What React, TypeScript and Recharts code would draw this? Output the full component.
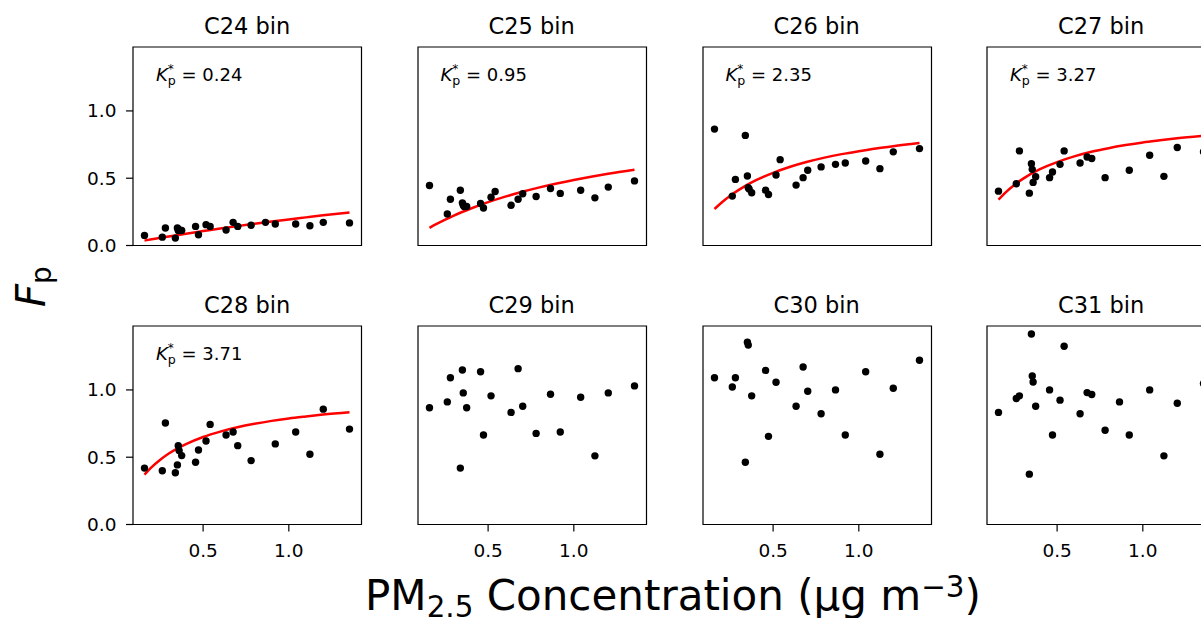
import React from 'react';
import { ComposedChart, Scatter, Line, XAxis, YAxis, ReferenceArea } from 'recharts';

const FONT = '"DejaVu Sans", "Liberation Sans", sans-serif';

// ---------------- data ----------------
const binNames = ['C24', 'C25', 'C26', 'C27', 'C28', 'C29', 'C30', 'C31'];
const kpLabels = ['0.24', '0.95', '2.35', '3.27', '3.71', null, null, null];

// PM2.5 concentration (µg m-3), shared by every bin
const pm25 = [0.158, 0.262, 0.28, 0.338, 0.35, 0.355, 0.36, 0.375, 0.456, 0.473, 0.517, 0.541, 0.634, 0.675, 0.702, 0.78, 0.864, 0.921, 1.04, 1.123, 1.201, 1.354];

// Fp per bin (null = no point)
const fpC24 = [0.075, 0.062, 0.13, 0.055, 0.13, 0.112, 0.118, 0.112, 0.142, 0.08, 0.155, 0.142, 0.115, 0.172, 0.142, 0.15, 0.172, 0.16, 0.16, 0.147, 0.172, 0.168];
const fpC25 = [0.446, 0.234, 0.344, 0.411, 0.317, 0.3, 0.29, 0.29, 0.312, 0.279, 0.359, 0.401, 0.299, 0.344, 0.384, 0.364, 0.424, 0.387, 0.411, 0.354, 0.434, 0.48];
const fpC26 = [0.865, 0.367, 0.491, 0.818, 0.516, 0.429, 0.42, 0.392, 0.411, 0.379, 0.524, 0.638, 0.449, 0.504, 0.559, 0.584, 0.603, 0.613, 0.628, 0.571, 0.696, 0.72];
const fpC27 = [0.404, 0.459, 0.703, 0.389, 0.608, 0.566, 0.469, 0.511, 0.504, 0.546, 0.603, 0.703, 0.613, 0.658, 0.646, 0.504, null, 0.559, 0.671, 0.514, 0.728, 0.696];
const fpC28 = [0.419, 0.399, 0.754, 0.384, 0.443, 0.586, 0.549, 0.512, 0.463, 0.554, 0.621, 0.744, 0.665, 0.687, 0.586, 0.475, null, 0.599, 0.687, 0.522, 0.857, 0.709];
const fpC29 = [0.867, 0.911, 1.091, 0.419, 1.148, 0.978, null, 0.867, 1.135, 0.665, 0.956, null, 0.833, 1.158, 0.879, 0.677, 0.968, 0.687, 0.946, 0.51, 0.978, 1.03];
const fpC30 = [1.091, 1.022, 1.091, 0.463, 1.355, 1.333, null, 0.956, 1.145, 0.655, 1.057, null, 0.879, 1.17, 0.99, 0.823, 1.0, 0.665, 1.135, 0.522, 1.012, 1.22];
const fpC31 = [0.833, 0.936, 0.956, 0.374, 1.416, 1.103, 1.059, 0.879, 1.0, 0.665, 0.924, 1.325, 0.823, 0.98, 0.966, 0.7, 0.911, 0.665, 1.0, 0.51, 0.901, 1.047];

// fitted curves
const curveX = [0.158, 0.2, 0.25, 0.3, 0.4, 0.5, 0.6, 0.7, 0.8, 0.9, 1.0, 1.1, 1.2, 1.354];
const curveC24 = [0.037, 0.046, 0.057, 0.067, 0.088, 0.107, 0.126, 0.144, 0.161, 0.178, 0.194, 0.209, 0.224, 0.245];
const curveC25 = [0.131, 0.16, 0.192, 0.222, 0.275, 0.322, 0.363, 0.399, 0.432, 0.461, 0.487, 0.511, 0.533, 0.563];
const curveC26 = [0.271, 0.32, 0.37, 0.413, 0.485, 0.54, 0.585, 0.622, 0.653, 0.679, 0.701, 0.721, 0.738, 0.761];
const curveC27 = [0.341, 0.395, 0.45, 0.495, 0.567, 0.62, 0.662, 0.696, 0.723, 0.746, 0.766, 0.782, 0.797, 0.816];
const curveC28 = [0.37, 0.426, 0.481, 0.527, 0.597, 0.65, 0.69, 0.722, 0.748, 0.77, 0.788, 0.803, 0.817, 0.834];

const xTicks = [0.5, 1.0];
const yTicks = [0, 0.5, 1.0];
const xDomain: [number, number] = [0.091, 1.424];
const yDomain: [number, number] = [0, 1.475];

const fpSeries = [fpC24, fpC25, fpC26, fpC27, fpC28, fpC29, fpC30, fpC31];
const curveSeries = [curveC24, curveC25, curveC26, curveC27, curveC28, null, null, null];

// ---------------- layout ----------------
const COL_LEFT = [133, 417.5, 702.5, 987];
const ROW_TOP = [46.5, 325.5];
const PW = 228.5;
const PH = 198.5;
const YW = 60;
const XH = 45;
const PAD = 3;

const tickStyle = { fill: '#000', fontSize: 18.5, fontFamily: FONT };

const Dot = (props: any) => <circle cx={props.cx} cy={props.cy} r={3.7} fill="#000" />;

function Panel({ idx }: { idx: number }) {
  const row = Math.floor(idx / 4);
  const col = idx % 4;
  const ys = fpSeries[idx];
  const scatterData = pm25
    .map((x, i) => ({ x, y: ys[i] }))
    .filter((d) => d.y !== null && d.y !== undefined);
  const cv = curveSeries[idx];
  const curveData = cv ? curveX.map((x, i) => ({ x, y: cv[i] })) : null;
  return (
    <div style={{ position: 'absolute', left: COL_LEFT[col] - YW, top: ROW_TOP[row] - PAD }}>
      <ComposedChart
        width={YW + PW + PAD}
        height={PAD + PH + XH}
        margin={{ top: PAD, right: PAD, bottom: 0, left: 0 }}
      >
        <XAxis
          type="number"
          dataKey="x"
          domain={xDomain}
          ticks={xTicks}
          allowDataOverflow
          height={XH}
          axisLine={false}
          tickLine={row === 1 ? { stroke: '#000', strokeWidth: 1.2 } : false}
          tick={row === 1 ? tickStyle : false}
          tickSize={7}
          tickMargin={12}
          tickFormatter={(v: number) => v.toFixed(1)}
        />
        <YAxis
          type="number"
          dataKey="y"
          domain={yDomain}
          ticks={yTicks}
          allowDataOverflow
          width={YW}
          axisLine={false}
          tickLine={{ stroke: '#000', strokeWidth: 1.2 }}
          tick={col === 0 ? tickStyle : false}
          tickSize={7}
          tickMargin={9.5}
          tickFormatter={(v: number) => v.toFixed(1)}
        />
        <ReferenceArea
          x1={xDomain[0]}
          x2={xDomain[1]}
          y1={yDomain[0]}
          y2={yDomain[1]}
          fill="none"
          fillOpacity={0}
          stroke="#000"
          strokeWidth={1.2}
          ifOverflow="visible"
        />
        <Scatter data={scatterData} dataKey="y" fill="#000" shape={Dot} isAnimationActive={false} />
        {curveData && (
          <Line
            data={curveData}
            dataKey="y"
            type="monotone"
            stroke="#ff0000"
            strokeWidth={2.5}
            dot={false}
            activeDot={false}
            isAnimationActive={false}
          />
        )}
      </ComposedChart>
    </div>
  );
}

function Overlay() {
  return (
    <svg
      width={1201}
      height={618}
      style={{ position: 'absolute', left: 0, top: 0, pointerEvents: 'none' }}
      fontFamily={FONT}
    >
      {binNames.map((name, idx) => {
        const row = Math.floor(idx / 4);
        const col = idx % 4;
        return (
          <text
            key={'t' + idx}
            x={COL_LEFT[col] + PW / 2}
            y={ROW_TOP[row] - 12.4}
            textAnchor="middle"
            fontSize={22.5}
            fill="#000"
          >
            {`${name} bin`}
          </text>
        );
      })}
      {kpLabels.map((kp, idx) => {
        if (!kp) return null;
        const row = Math.floor(idx / 4);
        const col = idx % 4;
        return (
          <text key={'k' + idx} x={COL_LEFT[col] + 23} y={ROW_TOP[row] + 34.5} fontSize={18} fill="#000">
            <tspan fontStyle="italic">K</tspan>
            <tspan fontSize={12} dy={-7.7}>*</tspan>
            <tspan fontSize={12.6} dx={-6} dy={11.2}>p</tspan>
            <tspan dy={-3.5}>{` = ${kp}`}</tspan>
          </text>
        );
      })}
      <text transform="translate(45, 286.5) rotate(-90)" textAnchor="middle" fontSize={40} fill="#000">
        <tspan fontStyle="italic">F</tspan>
        <tspan fontSize={28} dy={6}>p</tspan>
      </text>
      <text x={673} y={610} textAnchor="middle" fontSize={42} fill="#000">
        PM
        <tspan fontSize={29.4} dy={7}>2.5</tspan>
        <tspan dy={-7}> Concentration (μg m</tspan>
        <tspan fontSize={29.4} dy={-13.5}>−3</tspan>
        <tspan dy={13.5}>)</tspan>
      </text>
    </svg>
  );
}

export default function App() {
  return (
    <div
      style={{
        position: 'absolute',
        left: 0,
        top: 0,
        width: 1201,
        height: 618,
        overflow: 'hidden',
        background: '#fff',
        fontFamily: FONT,
      }}
    >
      {binNames.map((_, idx) => (
        <Panel key={idx} idx={idx} />
      ))}
      <Overlay />
    </div>
  );
}
